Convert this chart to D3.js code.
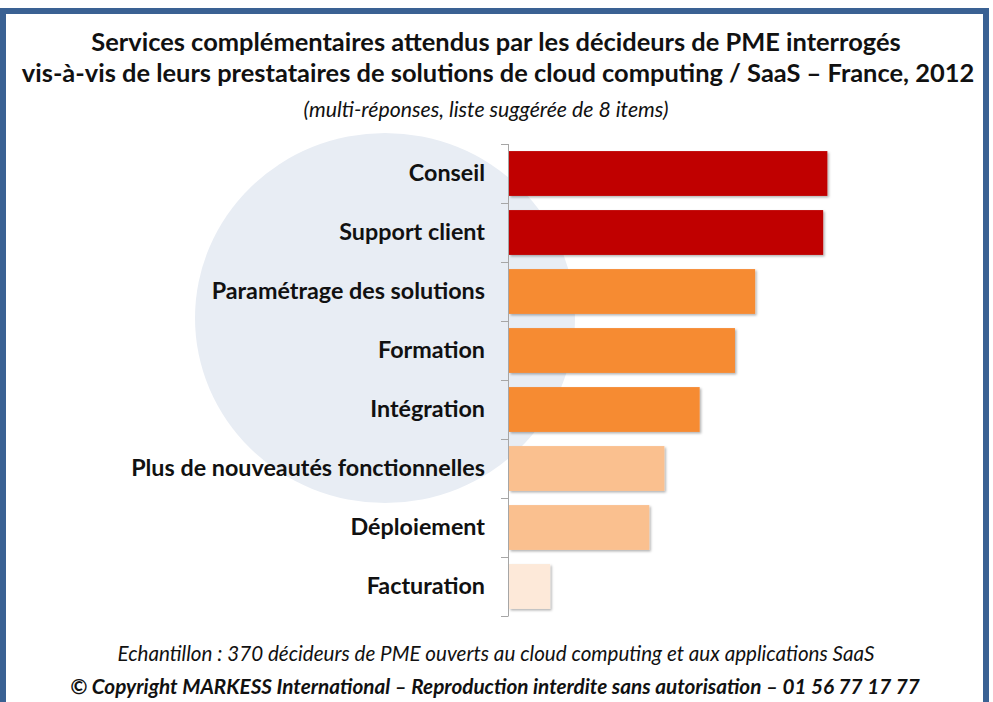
<!DOCTYPE html>
<html>
<head>
<meta charset="utf-8">
<script src="https://cdn.jsdelivr.net/npm/d3@7"></script>
<style>
  html, body { margin: 0; padding: 0; background: #fff; }
  svg { display: block; }
  text { font-family: Lato, "Open Sans", "Liberation Sans", sans-serif; fill: #111; }
</style>
</head>
<body>
<svg id="chart"></svg>
<script>
// data
const categories = [
    'Conseil', 'Support client', 'Paramétrage des solutions', 'Formation',
    'Intégration', 'Plus de nouveautés fonctionnelles', 'Déploiement', 'Facturation'
];
const values = [ 37.9, 37.4, 29.3, 26.9, 22.7, 18.5, 16.7, 4.9 ];
const colors = [ '#c00000', '#c00000', '#f68b33', '#f68b33', '#f68b33', '#fac08f', '#fac08f', '#fde9d9' ];

const titleLines = [
    'Services complémentaires attendus par les décideurs de PME interrogés',
    'vis-à-vis de leurs prestataires de solutions de cloud computing / SaaS – France, 2012'
];
const subtitle = '(multi-réponses, liste suggérée de 8 items)';
const footnote = 'Echantillon : 370 décideurs de PME ouverts au cloud computing et aux applications SaaS';
const copyright = '© Copyright MARKESS International – Reproduction interdite sans autorisation – 01 56 77 17 77';

const data = categories.map( ( c, i ) => ({ label: c, value: values[i], color: colors[i] }) );

const width = 993, height = 702;
const svg = d3.select( '#chart' ).attr( 'width', width ).attr( 'height', height );

// shadow for bars
const defs = svg.append( 'defs' );
defs.append( 'filter' ).attr( 'id', 'shadow' )
    .attr( 'x', '-5%' ).attr( 'y', '-10%' ).attr( 'width', '115%' ).attr( 'height', '130%' )
    .append( 'feDropShadow' )
    .attr( 'dx', 1.5 ).attr( 'dy', 1.5 ).attr( 'stdDeviation', 1.2 )
    .attr( 'flood-color', '#000' ).attr( 'flood-opacity', 0.3 );

// frame
svg.append( 'rect' ).attr( 'x', 0 ).attr( 'y', 8 ).attr( 'width', 989 ).attr( 'height', 700 )
    .attr( 'fill', '#3a6193' );
svg.append( 'rect' ).attr( 'x', 6 ).attr( 'y', 14 ).attr( 'width', 977 ).attr( 'height', 700 )
    .attr( 'fill', '#fff' );

// background disc
svg.append( 'ellipse' ).attr( 'cx', 385 ).attr( 'cy', 318 ).attr( 'rx', 190 ).attr( 'ry', 185 )
    .attr( 'fill', '#e8edf4' );

// fit a text element to a target width by adjusting font size
function fitText( sel, target ) {
    const w = sel.node().getComputedTextLength();
    const fs = parseFloat( sel.attr( 'font-size' ) );
    sel.attr( 'font-size', fs * target / w );
}

// titles
const t1 = svg.append( 'text' ).attr( 'x', 496 ).attr( 'y', 51 ).attr( 'text-anchor', 'middle' )
    .attr( 'font-weight', 'bold' ).attr( 'font-size', 22 ).text( titleLines[0] );
const t2 = svg.append( 'text' ).attr( 'x', 498 ).attr( 'y', 82 ).attr( 'text-anchor', 'middle' )
    .attr( 'font-weight', 'bold' ).attr( 'font-size', 22 ).text( titleLines[1] );
fitText( t2, 953 );
t1.attr( 'font-size', t2.attr( 'font-size' ) );

const st = svg.append( 'text' ).attr( 'x', 486 ).attr( 'y', 117 ).attr( 'text-anchor', 'middle' )
    .attr( 'font-style', 'italic' ).attr( 'font-size', 16 ).text( subtitle );
fitText( st, 365 );

// scales
const yscale = d3.scaleBand()
    .domain( categories )
    .range( [ 144, 616 ] )
    .paddingInner( 0.24 )
    .paddingOuter( 0.12 );

const xscale = d3.scaleLinear()
    .domain( [ 0, 40 ] )
    .range( [ 509, 845 ] );

// bars
svg.append( 'g' ).selectAll( 'rect' )
    .data( data )
    .join( 'rect' )
    .attr( 'x', xscale( 0 ) )
    .attr( 'y', d => yscale( d.label ) )
    .attr( 'width', d => xscale( d.value ) - xscale( 0 ) )
    .attr( 'height', yscale.bandwidth() )
    .attr( 'fill', d => d.color )
    .attr( 'filter', 'url(#shadow)' );

// category axis with ticks on band boundaries
const step = yscale.step();
const bounds = categories.map( c => yscale( c ) - step * yscale.paddingInner() / 2 );
bounds.push( yscale.range()[1] );
const axis = svg.append( 'g' ).attr( 'stroke', '#a6a6a6' ).attr( 'stroke-width', 1 );
axis.append( 'line' )
    .attr( 'x1', 508.5 ).attr( 'x2', 508.5 )
    .attr( 'y1', yscale.range()[0] ).attr( 'y2', yscale.range()[1] );
axis.selectAll( 'line.tick' )
    .data( bounds )
    .join( 'line' ).attr( 'class', 'tick' )
    .attr( 'x1', 501 ).attr( 'x2', 508.5 )
    .attr( 'y1', d => Math.round( d ) + 0.5 ).attr( 'y2', d => Math.round( d ) + 0.5 );

// category labels
const labels = svg.append( 'g' ).selectAll( 'text' )
    .data( data )
    .join( 'text' )
    .attr( 'x', 485 )
    .attr( 'y', d => yscale( d.label ) + yscale.bandwidth() / 2 + 7 )
    .attr( 'text-anchor', 'end' )
    .attr( 'font-weight', 'bold' )
    .attr( 'font-size', 20 )
    .text( d => d.label );
const longest = labels.filter( d => d.label === 'Plus de nouveautés fonctionnelles' );
fitText( longest, 354 );
labels.attr( 'font-size', longest.attr( 'font-size' ) );

// footer
const f1 = svg.append( 'text' ).attr( 'x', 496 ).attr( 'y', 661 ).attr( 'text-anchor', 'middle' )
    .attr( 'font-style', 'italic' ).attr( 'font-size', 17 ).text( footnote );
fitText( f1, 757 );
const f2 = svg.append( 'text' ).attr( 'x', 495 ).attr( 'y', 694 ).attr( 'text-anchor', 'middle' )
    .attr( 'font-style', 'italic' ).attr( 'font-weight', 'bold' ).attr( 'font-size', 17 ).text( copyright );
fitText( f2, 850 );
</script>
</body>
</html>
